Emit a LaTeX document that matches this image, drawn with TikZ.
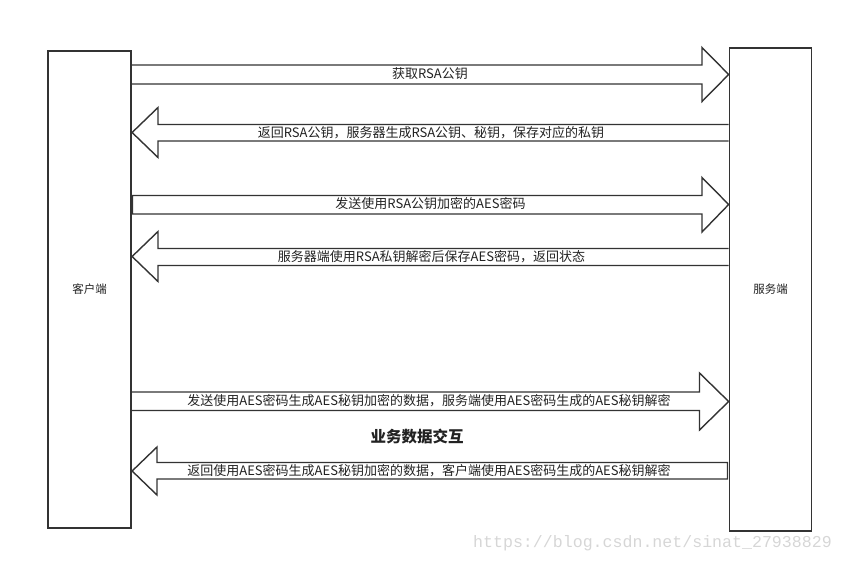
\documentclass[tikz,border=0pt]{standalone}
\usepackage{fontspec}
\setmainfont{Noto Sans CJK SC}
\newfontfamily\urlfont{Liberation Mono}
\definecolor{linegray}{HTML}{333333}
\definecolor{textgray}{HTML}{222222}
\tikzset{
	hostbox/.style={draw=linegray, line width=1.7pt, font=\fontsize{11.5}{13}\selectfont, text=textgray},
	blockarrow/.style={draw=linegray, line width=1.4pt, line join=miter},
	msg/.style={font=\fontsize{13}{15}\selectfont, text=textgray, inner sep=0pt},
}
\begin{document}
\begin{tikzpicture}[x=1pt, y=-1pt]
	\useasboundingbox (0, 0) rectangle (843, 563);
	\node[hostbox, minimum width=83.5, minimum height=476.5] (client) at (89.5, 289.5) {客户端};
	\node[hostbox, minimum width=82, minimum height=483] (server) at (770.5, 289.2) {服务端};
	
	\draw [blockarrow] (client.east |- 0, 65) -- (702, 65) -- (702, 47.5) -- (server.west |- 0, 74.5) -- (702, 101.5) -- (702, 84) -- (client.east |- 0, 84);
	\draw [blockarrow] (server.west |- 0, 124.5) -- (158, 124.5) -- (158, 107.5) -- (client.east |- 0, 132.5) -- (158, 157.5) -- (158, 141) -- (server.west |- 0, 141);
	\draw [blockarrow] (132.5, 195.5) -- (702, 195.5) -- (702, 177.5) -- (server.west |- 0, 204.5) -- (702, 232) -- (702, 214) -- (132.5, 214) -- cycle;
	\draw [blockarrow] (server.west |- 0, 248.5) -- (158, 248.5) -- (158, 231.5) -- (client.east |- 0, 256.5) -- (158, 281.5) -- (158, 265.5) -- (server.west |- 0, 265.5);
	\draw [blockarrow] (client.east |- 0, 392) -- (699.5, 392) -- (699.5, 373) -- (server.west |- 0, 401.5) -- (699.5, 430) -- (699.5, 410.5) -- (client.east |- 0, 410.5);
	\draw [blockarrow] (727.5, 462.5) -- (157, 462.5) -- (157, 447) -- (client.east |- 0, 471) -- (157, 495) -- (157, 479) -- (727.5, 479) -- cycle;
	
	\node[msg] (getkey) at (430, 74) {获取RSA公钥};
	\node[msg] (retkey) at (431, 132.5) {返回RSA公钥，服务器生成RSA公钥、秘钥，保存对应的私钥};
	\node[msg] (sendaes) at (430.5, 204) {发送使用RSA公钥加密的AES密码};
	\node[msg] (saveaes) at (431.5, 256.5) {服务器端使用RSA私钥解密后保存AES密码，返回状态};
	\node[msg] (senddata) at (429, 401) {发送使用AES密码生成AES秘钥加密的数据，服务端使用AES密码生成的AES秘钥解密};
	\node[msg, font=\fontsize{15.5}{17}\selectfont\bfseries] (business) at (417, 437) {业务数据交互};
	\node[msg] (retdata) at (429, 471) {返回使用AES密码生成AES秘钥加密的数据，客户端使用AES密码生成的AES秘钥解密};
	
	\node[font=\fontsize{16.6}{18}\urlfont, text=black!16, inner sep=0pt] (mark) at (652.5, 543) {https://blog.csdn.net/sinat\_27938829};
\end{tikzpicture}
\end{document}
